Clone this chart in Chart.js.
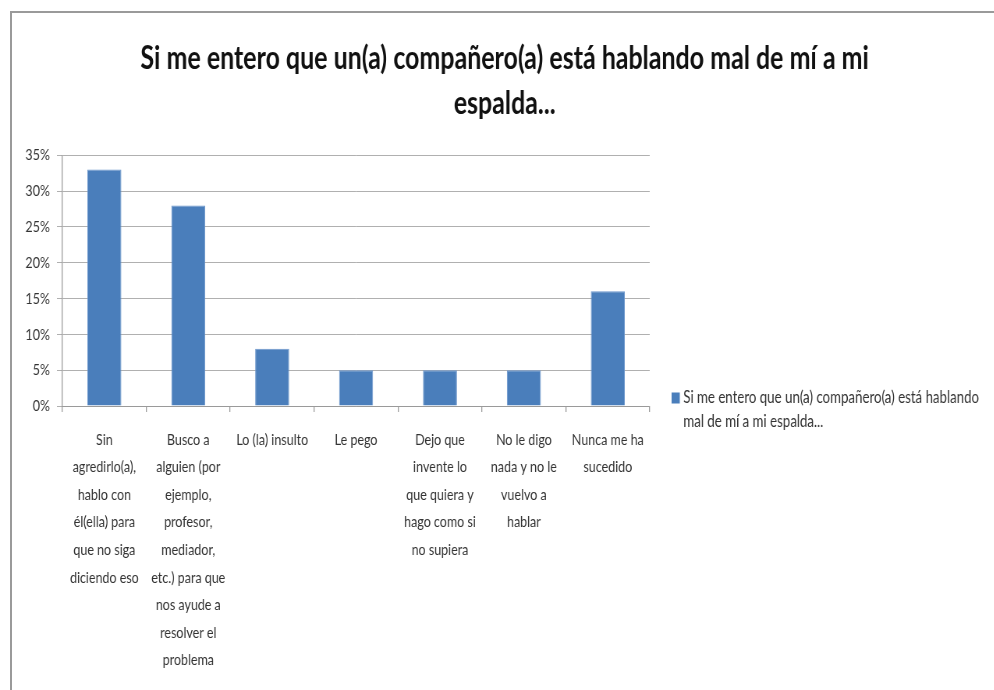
<!DOCTYPE html>
<html>
<head>
<meta charset="utf-8">
<script src="https://cdn.jsdelivr.net/npm/chart.js@4.4.1/dist/chart.umd.min.js"></script>
<style>
  html, body { margin: 0; padding: 0; background: #ffffff; overflow: hidden; }
  #page { position: relative; width: 994px; height: 690px; overflow: hidden; }
  #squeeze { position: absolute; left: 0; top: 0; width: 1274px; height: 690px;
             transform: scaleX(0.78); transform-origin: 0 0; }
  #frame { position: absolute; left: 10px; top: 11px; width: 990px; height: 690px;
           border-left: 2px solid #9a9a9a; border-top: 2px solid #9a9a9a; pointer-events: none; }
</style>
</head>
<body>
<div id="page">
  <div id="squeeze"><canvas id="c" width="1274" height="690"></canvas></div>
  <div id="frame"></div>
</div>
<script>
const titleLines = ["Si me entero que un(a) compañero(a) está hablando mal de mí a mi", "espalda..."];
const seriesName = "Si me entero que un(a) compañero(a) está hablando mal de mí a mi espalda...";
const legendLines = ["Si me entero que un(a) compañero(a) está hablando", "mal de mí a mi espalda..."];
const categories = [
  ["Sin", "agredirlo(a),", "hablo con", "él(ella) para", "que no siga", "diciendo eso"],
  ["Busco a", "alguien (por", "ejemplo,", "profesor,", "mediador,", "etc.) para que", "nos ayude a", "resolver el", "problema"],
  ["Lo (la) insulto"],
  ["Le pego"],
  ["Dejo que", "invente lo", "que quiera y", "hago como si", "no supiera"],
  ["No le digo", "nada y no le", "vuelvo a", "hablar"],
  ["Nunca me ha", "sucedido"]
];
const values = [33, 28, 8, 5, 5, 5, 16];
const yTicks = [0, 5, 10, 15, 20, 25, 30, 35];

const FONT = "Lato, 'Open Sans', 'DejaVu Sans Condensed', sans-serif";
const TEXT = '#333333';

const sideLegend = {
  id: 'sideLegend',
  afterDraw(chart) {
    const ctx = chart.ctx;
    const ds = chart.data.datasets[0];
    const area = chart.chartArea;
    const x0 = area.right + 28;
    const y0 = area.bottom - 8;
    ctx.save();
    ctx.fillStyle = ds.backgroundColor;
    ctx.fillRect(x0, y0 - 5.5, 10.5, 11);
    ctx.fillStyle = TEXT;
    ctx.font = "17px " + FONT;
    ctx.textBaseline = 'middle';
    ctx.textAlign = 'left';
    legendLines.forEach((t, i) => ctx.fillText(t, x0 + 15, y0 + i * 24));
    ctx.restore();
  }
};

new Chart(document.getElementById('c'), {
  type: 'bar',
  data: {
    labels: categories,
    datasets: [{
      label: seriesName,
      data: values,
      backgroundColor: '#4a7ebb',
      borderColor: '#6b96cc',
      borderWidth: 1,
      barPercentage: 0.405,
      categoryPercentage: 1.0
    }]
  },
  options: {
    responsive: false,
    animation: false,
    devicePixelRatio: 1,
    layout: { padding: { left: 20, right: 0, top: 11, bottom: 0 } },
    plugins: {
      title: {
        display: true,
        text: titleLines,
        color: '#111111',
        font: { family: FONT, size: 32, weight: 'bold', lineHeight: 1.41 },
        padding: { top: 25, bottom: 29 }
      },
      legend: { display: false },
      tooltip: { enabled: false }
    },
    scales: {
      x: {
        offset: true,
        afterFit: (s) => { s.height = 284; },
        grid: { offset: true, drawOnChartArea: false, drawTicks: true, tickLength: 6, color: '#9a9a9a', lineWidth: 1.3 },
        border: { color: '#9a9a9a', width: 1 },
        ticks: {
          autoSkip: false, maxRotation: 0, minRotation: 0,
          color: TEXT, padding: 14,
          font: { family: FONT, size: 16, lineHeight: 1.72 }
        }
      },
      y: {
        min: 0, max: 35,
        afterFit: (s) => { s.width = 60; },
        afterBuildTicks: (scale) => { scale.ticks = yTicks.map(v => ({ value: v })); },
        grid: { color: '#b0b0b0', tickLength: 7, lineWidth: 1 },
        border: { color: '#9a9a9a', width: 1.3 },
        ticks: {
          color: TEXT, padding: 9,
          font: { family: FONT, size: 16 },
          callback: (v) => v + '%'
        }
      },
      legendSpace: {
        type: 'linear',
        position: 'right',
        display: true,
        afterFit: (s) => { s.width = 441; },
        grid: { display: false, drawTicks: false },
        border: { display: false },
        ticks: { display: false }
      }
    }
  },
  plugins: [sideLegend]
});
</script>
</body>
</html>
